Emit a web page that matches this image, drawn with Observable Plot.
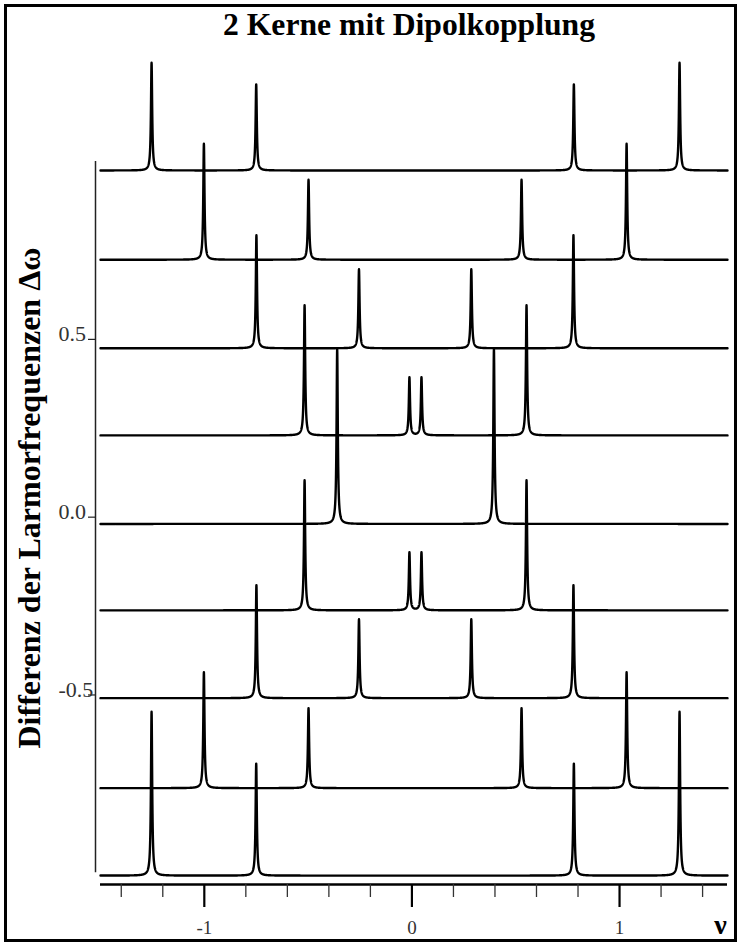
<!DOCTYPE html>
<html><head><meta charset="utf-8">
<script src="https://cdn.jsdelivr.net/npm/d3@7"></script>
<script src="https://cdn.jsdelivr.net/npm/@observablehq/plot@0.6"></script>
<style>
html,body{margin:0;padding:0;background:#fff;}
#wrap{position:relative;width:741px;height:946px;overflow:hidden;background:#fff;}
#border{position:absolute;left:4px;top:4px;width:733px;height:938px;border:3px solid #000;box-sizing:border-box;pointer-events:none;}
#title{position:absolute;left:223px;top:6px;white-space:nowrap;font:bold 32px "Liberation Serif","Times New Roman",serif;color:#000;transform-origin:0 0;}
#chart{position:absolute;left:0;top:48px;}
</style></head><body>
<div id="wrap"><div id="title">2 Kerne mit Dipolkopplung</div><div id="chart"></div><div id="border"></div></div>
<script>
// ---- data ----
const titleText = "2 Kerne mit Dipolkopplung";
const yLabelText = "Differenz der Larmorfrequenzen \u0394\u03c9";
const xLabelText = "\u03bd";
const xDomain = [-1.5, 1.52];
const yDomain = [-1.033, 1.3];
const xMajorTicks = [-1, 0, 1];
const xMinorTicks = [-1.4, -1.2, -0.8, -0.6, -0.4, -0.2, 0.2, 0.4, 0.6, 0.8, 1.2, 1.4];
const yTicks = [0.5, 0, -0.5];
const yAxisExtent = [-1, 1];
// baseline level of each stacked spectrum (on the Δω axis)
const traceBaselines = [0.975, 0.724, 0.475, 0.230, -0.019, -0.262, -0.509, -0.762, -1.008];
// peak positions (ν) of each spectrum
const peakPositions = [
  [-1.254, -0.750, 0.780, 1.289],
  [-1.002, -0.498, 0.528, 1.034],
  [-0.749, -0.255, 0.286, 0.778],
  [-0.517, -0.012, 0.046, 0.552],
  [-0.360, 0.395],
  [-0.517, -0.012, 0.046, 0.552],
  [-0.749, -0.255, 0.286, 0.778],
  [-1.002, -0.498, 0.528, 1.034],
  [-1.254, -0.750, 0.780, 1.289]
];
// peak heights (in Δω axis units)
const peakHeights = [
  [0.303, 0.242, 0.242, 0.303],
  [0.326, 0.225, 0.225, 0.326],
  [0.318, 0.222, 0.222, 0.318],
  [0.366, 0.163, 0.163, 0.366],
  [0.492, 0.492],
  [0.366, 0.163, 0.163, 0.366],
  [0.318, 0.222, 0.222, 0.318],
  [0.326, 0.225, 0.225, 0.326],
  [0.461, 0.315, 0.315, 0.461]
];
const lineHalfWidth = 0.0035; // Lorentzian half width

// ---- build the line shapes (sum of Lorentzian lines per spectrum) ----
const step = 0.0005;
const nSteps = Math.round((xDomain[1] - xDomain[0]) / step);
const rows = [];
traceBaselines.forEach((b, i) => {
  const P = peakPositions[i], H = peakHeights[i];
  for (let k = 0; k <= nSteps; k++) {
    const nu = xDomain[0] + k * step;
    let v = b;
    for (let j = 0; j < P.length; j++) {
      const d = nu - P[j];
      v += H[j] * lineHalfWidth * lineHalfWidth / (d * d + lineHalfWidth * lineHalfWidth);
    }
    rows.push({trace: i, nu, y: v});
  }
});

const serif = "'Liberation Serif', 'Times New Roman', serif";
const chart = Plot.plot({
  width: 741, height: 898,
  marginLeft: 100, marginRight: 14, marginTop: 6.4, marginBottom: 62,
  x: {domain: xDomain, label: null},
  y: {domain: yDomain, label: null},
  style: {background: "transparent", overflow: "visible", fontFamily: serif},
  marks: [
    // x axis
    Plot.ruleY([yDomain[0]], {stroke: "#000", strokeWidth: 2.5}),
    Plot.axisX({ticks: xMinorTicks, tickSize: 13, stroke: "#333", strokeWidth: 1.3, tickFormat: () => "", label: null}),
    Plot.axisX({ticks: xMajorTicks, tickSize: 23, stroke: "#000", strokeWidth: 2.2, tickFormat: () => "", label: null}),
    Plot.text(xMajorTicks, {x: d => d, frameAnchor: "bottom", dy: 49, lineAnchor: "bottom", text: d => String(d), fontSize: 19, fill: "#333", fontFamily: serif}),
    Plot.text([xLabelText], {frameAnchor: "bottom-right", dx: -7, dy: 49, lineAnchor: "bottom", textAnchor: "middle", fontSize: 28, fontWeight: "bold", fill: "#000", fontFamily: serif}),
    // y axis
    Plot.ruleX([xDomain[0]], {y1: yAxisExtent[0], y2: yAxisExtent[1], dx: -5, stroke: "#222", strokeWidth: 1.5}),
    Plot.axisY({ticks: yTicks, tickSize: 7, dx: -5, stroke: "#222", strokeWidth: 1.2, tickFormat: () => "", label: null}),
    Plot.text(yTicks, {x: xDomain[0], y: d => d, dx: -42, dy: 2, textAnchor: "start", lineAnchor: "bottom", text: d => d.toFixed(1), fontSize: 22, fill: "#333", fontFamily: serif}),
    Plot.text([yLabelText], {frameAnchor: "left", dx: -61, dy: 278.8, rotate: -90, textAnchor: "start", lineAnchor: "bottom", fontSize: 32, fontWeight: "bold", fill: "#000", fontFamily: serif}),
    // spectra
    Plot.line(rows, {x: "nu", y: "y", z: "trace", stroke: "#000", strokeWidth: 2.4})
  ]
});
document.getElementById("chart").appendChild(chart);

// fit title width to the reference (223..595)
const t = document.getElementById("title");
t.textContent = titleText;
const w = t.getBoundingClientRect().width;
t.style.transform = `scaleX(${372 / w})`;
</script>
</body></html>
